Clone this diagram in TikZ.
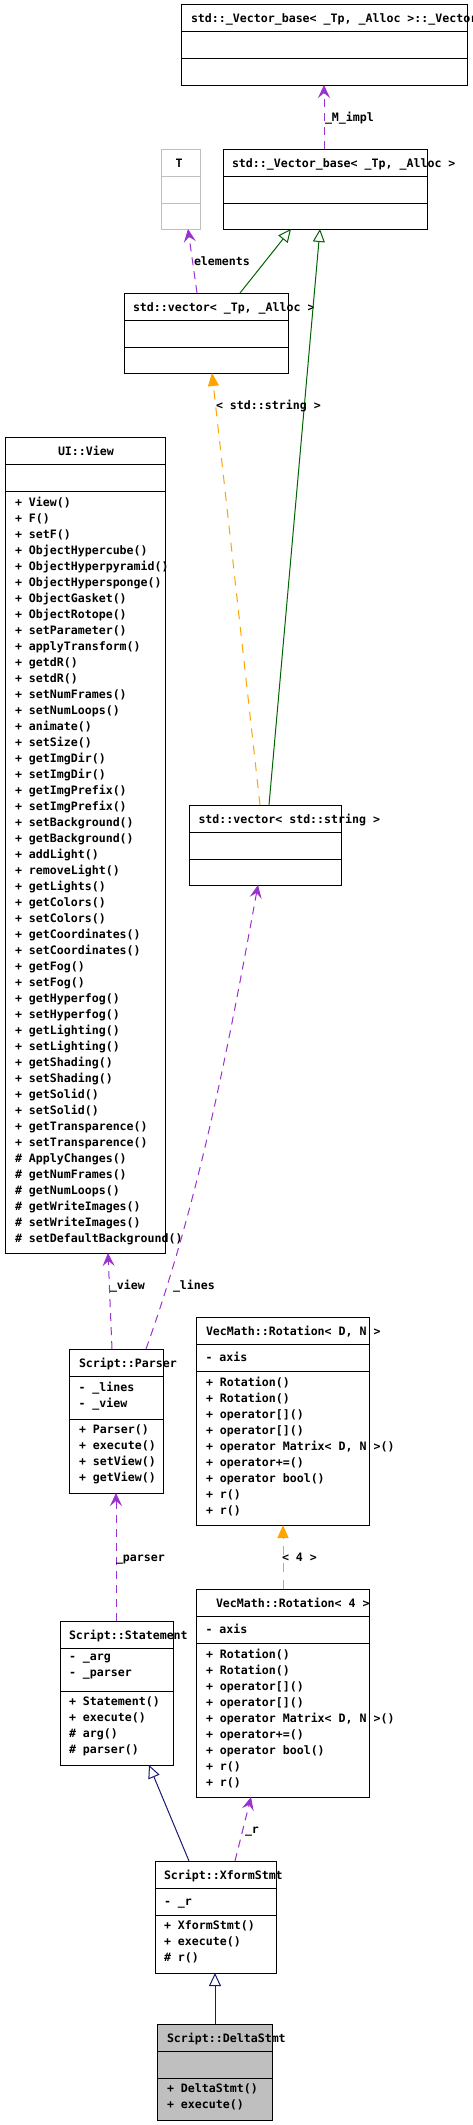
\documentclass[tikz,border=0pt]{standalone}
\usepackage{fontspec}
\usepackage{xcolor}
\usepackage{tikz}
\usetikzlibrary{arrows.meta}
\newfontfamily\doxfont{DejaVu Sans Mono}
\definecolor{usecol}{HTML}{9A32CD}
\definecolor{tplcol}{HTML}{FFA500}
\definecolor{pubcol}{HTML}{006400}
\definecolor{navycol}{HTML}{191970}
\definecolor{ghost}{HTML}{BFBFBF}

\begin{document}
\begin{tikzpicture}[
    x=1pt, y=1pt,
    divline/.style={line width=1pt, black},
    cls/.style 2 args={draw, line width=1pt, anchor=north west, inner sep=0pt, outer sep=0pt,
        path picture={\draw[divline] ([yshift=-#1]path picture bounding box.north west) -- ([yshift=-#1]path picture bounding box.north east)
            ([yshift=-#2]path picture bounding box.north west) -- ([yshift=-#2]path picture bounding box.north east);}},
    txt/.style={anchor=north west, align=left, inner sep=0pt, outer sep=0pt, font=\doxfont\bfseries\fontsize{11.6}{16}\selectfont, execute at begin node=\strut},
    uses/.style={-{Stealth[length=13pt, width=12pt, inset=5pt]}, usecol, line width=1pt, dash pattern=on 8pt off 6pt},
    tpl/.style={-{Triangle[length=13pt, width=11pt]}, tplcol, line width=1pt, dash pattern=on 9pt off 8pt},
    isa/.style={-{Triangle[open, length=13pt, width=12pt]}, line width=1pt}
]
\path[use as bounding box, clip] (0,0) rectangle (472,-2125);

\node[cls={27}{54}, minimum width=286pt, minimum height=80pt] (vimpl) at (181,-5) {};
\node[txt] (vimpl-t) at ([shift={(10,-6.8)}]vimpl.north west) {std::\_Vector\_base< \_Tp, \_Alloc >::\_Vector\_impl};

\node[cls={27}{54}, draw=ghost, divline/.style={line width=1pt, ghost}, minimum width=39pt, minimum height=80pt] (tparam) at (161,-149) {};
\node[txt] (tparam-t) at ([shift={(14.5,-6.8)}]tparam.north west) {T};

\node[cls={27}{54}, minimum width=204pt, minimum height=80pt] (vbase) at (223,-149) {};
\node[txt] (vbase-t) at ([shift={(9,-6.8)}]vbase.north west) {std::\_Vector\_base< \_Tp, \_Alloc >};

\node[cls={27}{54}, minimum width=164pt, minimum height=80pt] (vectp) at (124,-293) {};
\node[txt] (vectp-t) at ([shift={(9,-6.8)}]vectp.north west) {std::vector< \_Tp, \_Alloc >};

\node[cls={27}{54}, minimum width=160pt, minimum height=816pt] (view) at (5,-437) {};
\node[txt] (view-t) at ([shift={(53,-6.8)}]view.north west) {UI::View};
\node[txt] (view-o) at ([shift={(10,-59.8)}]view.north west) {+ View()\\
+ F()\\
+ setF()\\
+ ObjectHypercube()\\
+ ObjectHyperpyramid()\\
+ ObjectHypersponge()\\
+ ObjectGasket()\\
+ ObjectRotope()\\
+ setParameter()\\
+ applyTransform()\\
+ getdR()\\
+ setdR()\\
+ setNumFrames()\\
+ setNumLoops()\\
+ animate()\\
+ setSize()\\
+ getImgDir()\\
+ setImgDir()\\
+ getImgPrefix()\\
+ setImgPrefix()\\
+ setBackground()\\
+ getBackground()\\
+ addLight()\\
+ removeLight()\\
+ getLights()\\
+ getColors()\\
+ setColors()\\
+ getCoordinates()\\
+ setCoordinates()\\
+ getFog()\\
+ setFog()\\
+ getHyperfog()\\
+ setHyperfog()\\
+ getLighting()\\
+ setLighting()\\
+ getShading()\\
+ setShading()\\
+ getSolid()\\
+ setSolid()\\
+ getTransparence()\\
+ setTransparence()\\
\# ApplyChanges()\\
\# getNumFrames()\\
\# getNumLoops()\\
\# getWriteImages()\\
\# setWriteImages()\\
\# setDefaultBackground()};

\node[cls={27}{54}, minimum width=152pt, minimum height=80pt] (vecstr) at (189,-805) {};
\node[txt] (vecstr-t) at ([shift={(9.5,-6.8)}]vecstr.north west) {std::vector< std::string >};

\node[cls={27}{70}, minimum width=94pt, minimum height=144pt] (parser) at (69,-1349) {};
\node[txt] (parser-t) at ([shift={(10,-6.8)}]parser.north west) {Script::Parser};
\node[txt] (parser-a) at ([shift={(9.5,-32.8)}]parser.north west) {- \_lines\\
- \_view};
\node[txt] (parser-o) at ([shift={(10,-75.8)}]parser.north west) {+ Parser()\\
+ execute()\\
+ setView()\\
+ getView()};

\node[cls={27}{54}, minimum width=173pt, minimum height=208pt] (rotdn) at (196,-1317) {};
\node[txt] (rotdn-t) at ([shift={(10,-6.8)}]rotdn.north west) {VecMath::Rotation< D, N >};
\node[txt] (rotdn-a) at ([shift={(9.5,-32.8)}]rotdn.north west) {- axis};
\node[txt] (rotdn-o) at ([shift={(10,-59.8)}]rotdn.north west) {+ Rotation()\\
+ Rotation()\\
+ operator[]()\\
+ operator[]()\\
+ operator Matrix< D, N >()\\
+ operator+=()\\
+ operator bool()\\
+ r()\\
+ r()};

\node[cls={27}{54}, minimum width=173pt, minimum height=208pt] (rot4) at (196,-1589) {};
\node[txt] (rot4-t) at ([shift={(20,-6.8)}]rot4.north west) {VecMath::Rotation< 4 >};
\node[txt] (rot4-a) at ([shift={(9.5,-32.8)}]rot4.north west) {- axis};
\node[txt] (rot4-o) at ([shift={(10,-59.8)}]rot4.north west) {+ Rotation()\\
+ Rotation()\\
+ operator[]()\\
+ operator[]()\\
+ operator Matrix< D, N >()\\
+ operator+=()\\
+ operator bool()\\
+ r()\\
+ r()};

\node[cls={27}{70}, minimum width=113pt, minimum height=144pt] (stmt) at (60,-1621) {};
\node[txt] (stmt-t) at ([shift={(9,-6.8)}]stmt.north west) {Script::Statement};
\node[txt] (stmt-a) at ([shift={(9,-32.8)}]stmt.north west) {- \_arg\\
- \_parser};
\node[txt] (stmt-o) at ([shift={(9,-75.8)}]stmt.north west) {+ Statement()\\
+ execute()\\
\# arg()\\
\# parser()};

\node[cls={27}{54}, minimum width=121pt, minimum height=112pt] (xform) at (155,-1861) {};
\node[txt] (xform-t) at ([shift={(9,-6.8)}]xform.north west) {Script::XformStmt};
\node[txt] (xform-a) at ([shift={(9,-32.8)}]xform.north west) {- \_r};
\node[txt] (xform-o) at ([shift={(9,-59.8)}]xform.north west) {+ XformStmt()\\
+ execute()\\
\# r()};

\node[cls={27}{54}, fill=ghost, minimum width=115pt, minimum height=96pt] (delta) at (157,-2024) {};
\node[txt] (delta-t) at ([shift={(10,-6.8)}]delta.north west) {Script::DeltaStmt};
\node[txt] (delta-o) at ([shift={(10,-59.8)}]delta.north west) {+ DeltaStmt()\\
+ execute()};

\draw[uses] ([xshift=101]vbase.north west) -- ([xshift=143]vimpl.south west);
\draw[uses] ([xshift=73]vectp.north west) -- ([xshift=27]tparam.south west);
\draw[isa, pubcol] ([xshift=116]vectp.north west) -- ([xshift=68]vbase.south west);
\draw[isa, pubcol] ([xshift=80]vecstr.north west) -- ([xshift=97]vbase.south west);
\draw[tpl] ([xshift=71]vecstr.north west) -- ([xshift=88]vectp.south west);
\draw[uses] ([xshift=77]parser.north west) .. controls (200,-1198) and (229,-1043) .. ([xshift=69]vecstr.south west);
\draw[uses] ([xshift=43]parser.north west) -- ([xshift=103]view.south west);
\draw[uses] ([xshift=56]stmt.north west) -- ([xshift=47]parser.south west);
\draw[tpl] ([xshift=87]rot4.north west) -- ([xshift=87]rotdn.south west);
\draw[uses] ([xshift=80]xform.north west) -- ([xshift=55]rot4.south west);
\draw[isa, navycol] ([xshift=34]xform.north west) -- ([xshift=89]stmt.south west);
\draw[isa, navycol] ([xshift=58]delta.north west) -- ([xshift=60]xform.south west);

\node[txt] (l-mimpl) at (325,-109.8) {\_M\_impl};
\node[txt] (l-elements) at (194,-253.8) {elements};
\node[txt] (l-string) at (216,-397.8) {< std::string >};
\node[txt] (l-view) at (110,-1277.8) {\_view};
\node[txt] (l-lines) at (173,-1277.8) {\_lines};
\node[txt] (l-parser) at (116,-1549.8) {\_parser};
\node[txt] (l-four) at (282,-1549.8) {< 4 >};
\node[txt] (l-r) at (245,-1821.8) {\_r};
\end{tikzpicture}
\end{document}
